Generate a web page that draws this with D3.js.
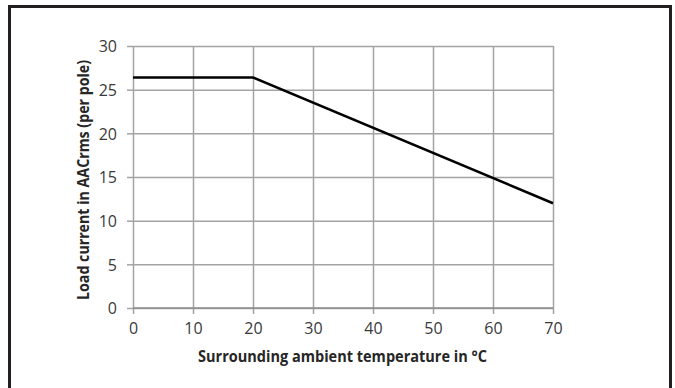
<!DOCTYPE html>
<html lang="en">
<head>
  <meta charset="UTF-8">
  <title>Load current derating</title>
  <script src="https://d3js.org/d3.v7.min.js"></script>
  <style>
    body { margin: 0; background: #fff; }
    svg { display: block; }
    .tick text { font-family: 'Open Sans', sans-serif; font-size: 16px; fill: #3a3a3a; }
    .title { font-family: 'Open Sans', sans-serif; font-weight: bold; font-size: 15.5px; fill: #262626; }
  </style>
</head>
<body>
  <div id="chart"></div>
  <script>
    // derating curve
    const temps = [0, 20, 70];
    const current = [26.4, 26.4, 12];
    const xTicks = [0, 10, 20, 30, 40, 50, 60, 70];
    const yTicks = [0, 5, 10, 15, 20, 25, 30];

    const width = 675, height = 388;
    const margin = { left: 133, right: 122, top: 46, bottom: 80 };

    const svg = d3.select("#chart").append("svg")
      .attr("width", width)
      .attr("height", height);

    // outer frame (bottom edge runs off the picture)
    svg.append("rect")
      .attr("x", 9.5).attr("y", 6.5)
      .attr("width", 661).attr("height", 400)
      .attr("fill", "none")
      .attr("stroke", "#231f20")
      .attr("stroke-width", 3);

    const x = d3.scaleLinear().domain([0, 70]).range([margin.left, width - margin.right]);
    const y = d3.scaleLinear().domain([0, 30]).range([height - margin.bottom, margin.top]);

    const grid = "#a3a3a3";

    // y axis with gridlines
    const yAxis = svg.append("g")
      .attr("transform", `translate(${margin.left},0)`)
      .call(d3.axisLeft(y).tickValues(yTicks).tickSize(6).tickPadding(10))
      .call(g => g.select(".domain").remove());
    yAxis.selectAll(".tick line").attr("stroke", grid).attr("stroke-width", 1.5);
    yAxis.selectAll(".tick").append("line")
      .attr("x1", 0).attr("x2", x(70) - margin.left)
      .attr("stroke", grid).attr("stroke-width", 1.5);
    yAxis.selectAll(".tick text").attr("dy", "0.36em");

    // x axis with gridlines
    const xAxis = svg.append("g")
      .attr("transform", `translate(0,${y(0)})`)
      .call(d3.axisBottom(x).tickValues(xTicks).tickSize(6).tickPadding(9))
      .call(g => g.select(".domain").remove());
    xAxis.selectAll(".tick line").attr("stroke", grid).attr("stroke-width", 1.5);
    xAxis.selectAll(".tick").append("line")
      .attr("y1", 0).attr("y2", y(30) - y(0))
      .attr("stroke", grid).attr("stroke-width", 1.5);

    // zero line a bit darker
    svg.append("line")
      .attr("x1", x(0)).attr("x2", x(70))
      .attr("y1", y(0)).attr("y2", y(0))
      .attr("stroke", "#8c8c8c").attr("stroke-width", 1.5);

    // curve
    const pts = temps.map((t, i) => [t, current[i]]);
    svg.append("path")
      .datum(pts)
      .attr("fill", "none")
      .attr("stroke", "#000")
      .attr("stroke-width", 2.6)
      .attr("d", d3.line().x(d => x(d[0])).y(d => y(d[1])));

    // titles
    svg.append("text")
      .attr("class", "title")
      .attr("x", 342.5).attr("y", 362)
      .attr("text-anchor", "middle")
      .attr("textLength", 289)
      .attr("lengthAdjust", "spacingAndGlyphs")
      .text("Surrounding ambient temperature in °C");

    svg.append("text")
      .attr("class", "title")
      .attr("transform", "translate(89,180) rotate(-90)")
      .attr("text-anchor", "middle")
      .attr("textLength", 240)
      .attr("lengthAdjust", "spacingAndGlyphs")
      .text("Load current in AACrms (per pole)");
  </script>
</body>
</html>
